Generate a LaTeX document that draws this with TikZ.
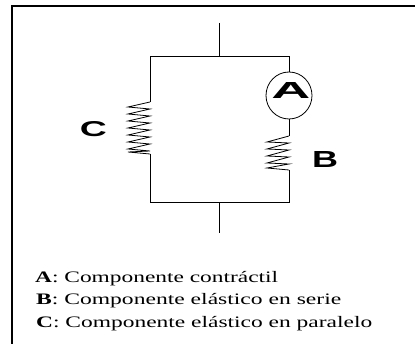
\documentclass[tikz,border=0pt]{standalone}
\usepackage{fontspec}
\usepackage{graphicx}
\usetikzlibrary{shapes.geometric}
\setmainfont{Liberation Serif}
\newfontfamily\lblfont{Liberation Sans}
\newcommand{\fitbox}[3]{\resizebox{#1}{#2}{#3}}
\begin{document}
\begin{tikzpicture}[x=1pt,y=-1pt,
  wire/.style={line width=1pt,black},
  frame/.style={line width=1.8pt,black},
  biglabel/.style={font=\lblfont\bfseries,inner sep=0pt},
  legend/.style={font=\fontsize{16}{16}\selectfont,anchor=base west,inner sep=0pt}]
\useasboundingbox (0,0) rectangle (415,344);
% frame
\draw[frame] (12,344) -- (12,6) -- (415,6);
% junctions
\coordinate (topend) at (219,23);
\coordinate (topmid) at (219,57);
\coordinate (tl) at (150,57);
\coordinate (tr) at (289,57);
\coordinate (bl) at (150,203);
\coordinate (br) at (289,203);
\coordinate (botmid) at (219,203);
\coordinate (botend) at (219,233);
\coordinate (cs) at (150,102);
\coordinate (ce) at (150,154);
\coordinate (bs) at (289,136);
\coordinate (be) at (289,170);
\node[draw,line width=0.8pt,ellipse,minimum width=46pt,minimum height=47pt,inner sep=0pt] (A) at (289,95.5) {};
\node[biglabel] (Alab) at (291,91) {\fitbox{39pt}{16pt}{A}};
\node[biglabel] (Clab) at (93.5,129.5) {\fitbox{27pt}{15pt}{C}};
\node[biglabel] (Blab) at (325,160) {\fitbox{26pt}{16pt}{B}};
\draw[wire] (topend) -- (topmid);
\draw[wire] (botmid) -- (botend);
\draw[wire] (cs) -- (tl) -- (tr) -- (A.north);
\draw[wire] (A.south) -- (bs);
\draw[wire] (ce) -- (bl) -- (br) -- (be);
% spring C
\draw[line width=0.8pt] (cs) -- (128,107) -- (150,109)
  -- (128,114) -- (150,116) -- (128,121) -- (150,123)
  -- (128,128) -- (150,130) -- (128,135) -- (150,137)
  -- (128,142) -- (150,144) -- (128,149) -- (150,151) -- (128,152) -- (ce);
% spring B
\draw[line width=0.8pt] (bs) -- (267,142) -- (289,143)
  -- (267,149) -- (289,150) -- (267,156) -- (289,157)
  -- (267,163) -- (289,164) -- (267,168) -- (be);
% legend
\node[legend] (la) at (35,283) {\fitbox{243pt}{\height}{\textbf{A}: Componente contráctil}};
\node[legend] (lb) at (36,304.5) {\fitbox{305pt}{\height}{\textbf{B}: Componente elástico en serie}};
\node[legend] (lc) at (36,328) {\fitbox{336pt}{\height}{\textbf{C}: Componente elástico en paralelo}};
\end{tikzpicture}
\end{document}
